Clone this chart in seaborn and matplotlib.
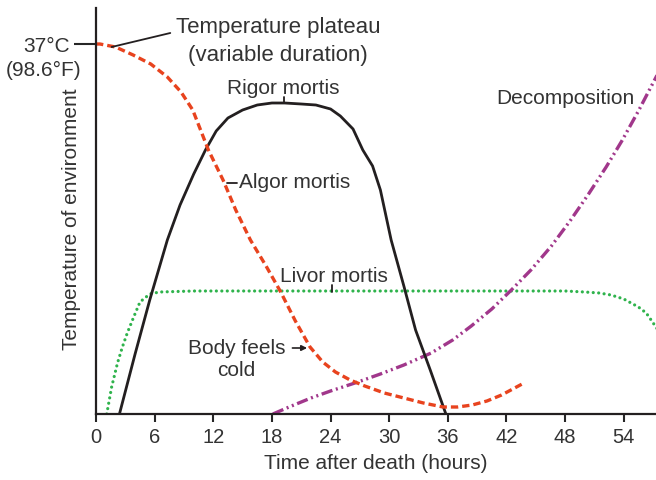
import seaborn as sns
import matplotlib.pyplot as plt

# Readings from the figure (y is a relative temperature / intensity scale, 0-406)
algor_hours = [0, 0.4, 2, 3.8, 5.6, 7.3, 8.7, 9.9, 11.5, 13, 14.3, 15.8, 17.4, 18.9,
               20.4, 21.9, 23.2, 24.5, 26, 27.5, 29.5, 31.5, 33.5, 35.5, 37, 38.5,
               40, 41.5, 43.6]
algor_temp = [370, 370, 367, 359, 350, 337, 322, 304, 264, 234, 204, 174, 148, 122,
              93, 67, 52, 42, 34, 28, 21, 16, 11, 7, 7, 9, 13, 19, 30]

rigor_hours = [2.4, 4, 5.5, 7.3, 8.6, 10, 11.2, 12.3, 13.5, 15, 16.5, 18, 19.3, 21,
               22.5, 24, 25, 26.3, 27.3, 28.3, 29.1, 30.2, 31.5, 32.7, 34.2, 35.8]
rigor_val = [0, 60, 114, 174, 209, 240, 264, 283, 296, 304, 309, 311, 311, 310,
             309, 305, 298, 285, 264, 248, 224, 174, 128, 84, 44, 0]

livor_hours = [1.1, 1.6, 2.2, 2.7, 3.2, 3.9, 4.5, 5.5, 6.5, 10, 20, 30, 40, 46, 48,
               50, 51.5, 52.7, 54, 55.5, 56.3, 56.8, 57.5]
livor_val = [0, 27, 51, 67, 81, 98, 112, 120, 122, 123, 123, 123, 123, 123, 123,
             122, 121, 119, 115, 107, 101, 94, 84]

decomp_hours = [18.1, 20, 22, 24, 26.8, 29.1, 31.5, 34.3, 36.5, 38.4, 40.5, 42.5,
                44.5, 46.6, 48.5, 50.4, 52.2, 53.8, 55.5, 57.1, 58]
decomp_val = [0, 8, 16, 23, 32, 40, 49, 61, 74, 88, 105, 124, 144, 168, 193, 220,
              247, 273, 303, 333, 350]

hour_ticks = [0, 6, 12, 18, 24, 30, 36, 42, 48, 54]

sns.set_style('ticks')
plt.rcParams['font.family'] = ['Liberation Sans', 'DejaVu Sans']
txt = '#333333'
fs = 15

fig = plt.figure(figsize=(6.56, 4.8), dpi=100)
ax = fig.add_axes([96/656, 66/480, 560/656, 406/480])

sns.lineplot(x=livor_hours, y=livor_val, sort=False, estimator=None, ax=ax,
             color='#2fb34c', lw=2.3, linestyle=(0, (0.01, 1.7)),
             dash_capstyle='round')
sns.lineplot(x=decomp_hours, y=decomp_val, sort=False, estimator=None, ax=ax,
             color='#a1378b', lw=2.4, linestyle=(0, (3.4, 1.1, 0.6, 1.1, 0.6, 1.1)))
sns.lineplot(x=rigor_hours, y=rigor_val, sort=False, estimator=None, ax=ax,
             color='#231f20', lw=2.0)
sns.lineplot(x=algor_hours, y=algor_temp, sort=False, estimator=None, ax=ax,
             color='#e8431e', lw=2.4, linestyle=(0, (2.2, 1.2)))

ax.set_xlim(0, 57.3)
ax.set_ylim(0, 406)
ax.set_xticks(hour_ticks)
ax.set_xticklabels([str(h) for h in hour_ticks], fontsize=14.5, color=txt)
ax.set_yticks([370])
ax.set_yticklabels(['37°C'], fontsize=fs, color=txt)
ax.tick_params(axis='x', direction='out', length=6, width=1.5, pad=4)
ax.tick_params(axis='y', direction='out', length=16, width=1.5, pad=3)
sns.despine(ax=ax)
for s in ['left', 'bottom']:
    ax.spines[s].set_linewidth(1.6)
    ax.spines[s].set_color('#231f20')

ax.set_xlabel('Time after death (hours)', fontsize=fs, color=txt, labelpad=5)
ax.set_ylabel('Temperature of environment', fontsize=fs, color=txt)
ax.yaxis.set_label_coords(-0.026, 0.48)

# annotations
ax.text(-5.4, 344, '(98.6°F)', fontsize=fs, color=txt, ha='center', va='center',
        clip_on=False)
ax.text(18.6, 387, 'Temperature plateau', fontsize=16, color=txt, ha='center', va='center')
ax.text(18.6, 359, '(variable duration)', fontsize=16, color=txt, ha='center', va='center')
ax.plot([1.6, 7.6], [367, 381], color='#231f20', lw=1.3)

ax.text(19.2, 326, 'Rigor mortis', fontsize=fs, color=txt, ha='center', va='center')
ax.plot([19.2, 19.2], [311, 317], color='#231f20', lw=1.3)

ax.text(14.6, 232, 'Algor mortis', fontsize=fs, color=txt, ha='left', va='center')
ax.plot([13.4, 14.4], [231, 231], color='#231f20', lw=1.3)

ax.text(24.3, 138, 'Livor mortis', fontsize=fs, color=txt, ha='center', va='center')
ax.plot([24.1, 24.1], [122, 129], color='#231f20', lw=1.3)

ax.text(14.4, 66, 'Body feels', fontsize=fs, color=txt, ha='center', va='center')
ax.text(14.4, 44, 'cold', fontsize=fs, color=txt, ha='center', va='center')
ax.annotate('', xy=(21.6, 66), xytext=(20.1, 66),
            arrowprops=dict(arrowstyle='-|>', color='#231f20', lw=1.2,
                            mutation_scale=8, shrinkA=0, shrinkB=0))

ax.text(55.1, 315, 'Decomposition', fontsize=fs, color=txt, ha='right', va='center')

fig.savefig('out.png', dpi=100)
